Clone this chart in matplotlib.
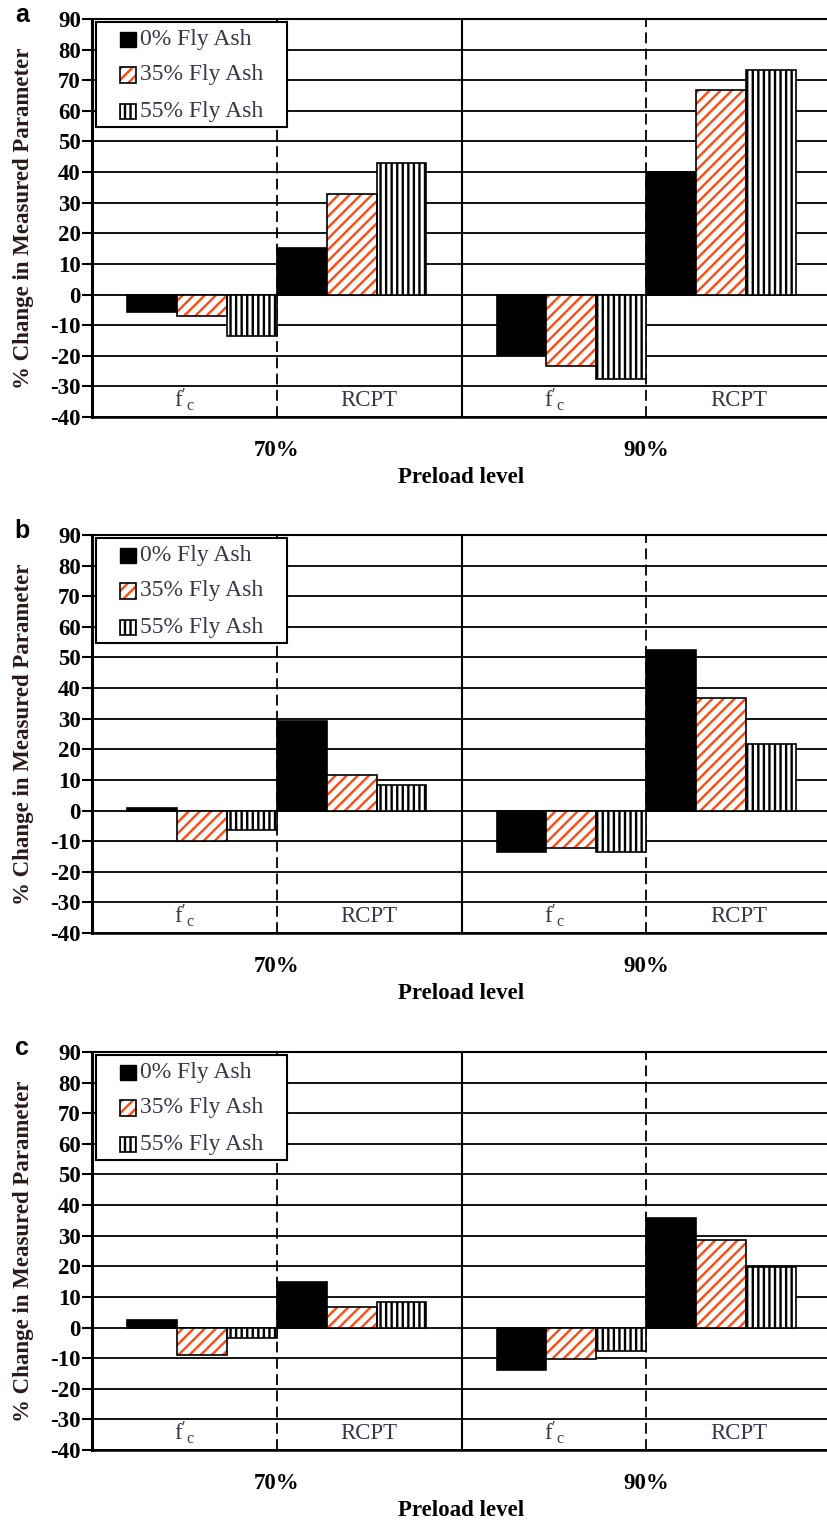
import matplotlib
matplotlib.use("Agg")
import matplotlib.pyplot as plt
import matplotlib.transforms as mtransforms
from matplotlib.patches import Rectangle
import numpy as np

plt.rcParams['font.family'] = ['Liberation Serif', 'DejaVu Serif']
plt.rcParams['mathtext.default'] = 'regular'
plt.rcParams['hatch.linewidth'] = 1.7

# 数据：每组顺序为 f'c@70%, RCPT@70%, f'c@90%, RCPT@90%
sections = ["f'c", "RCPT", "f'c", "RCPT"]
preload_levels = ["70%", "90%"]
series_labels = ["0% Fly Ash", "35% Fly Ash", "55% Fly Ash"]
yticks = list(range(-40, 100, 10))

panel_a_0 = [-5.8, 15.2, -19.6, 40.1]
panel_a_35 = [-7.1, 32.9, -23.4, 66.7]
panel_a_55 = [-13.6, 43.0, -27.5, 73.5]

panel_b_0 = [0.9, 29.2, -13.5, 52.6]
panel_b_35 = [-9.8, 11.5, -12.1, 36.6]
panel_b_55 = [-6.2, 8.5, -13.5, 21.8]

panel_c_0 = [2.4, 14.9, -13.9, 35.9]
panel_c_35 = [-8.9, 6.8, -10.3, 28.7]
panel_c_55 = [-3.5, 8.4, -7.6, 19.9]

panels = [("a", [panel_a_0, panel_a_35, panel_a_55]),
          ("b", [panel_b_0, panel_b_35, panel_b_55]),
          ("c", [panel_c_0, panel_c_35, panel_c_55])]

ORANGE = '#ff4a12'
TXT = '#3a3548'
W = 0.27  # 柱宽（每段宽度为1）

FIG_W, FIG_H = 827, 1525
ax_left, ax_right = 92, 831
ax_tops = [19, 535, 1052]
ax_h = 398


def bar_positions(k):
    """第k个系列在四个分段中的柱中心位置"""
    pos = []
    for i in range(4):
        pivot = 1.0 if i < 2 else 3.0
        if i % 2 == 0:
            pos.append(pivot - (2.5 - k) * W)
        else:
            pos.append(pivot + (0.5 + k) * W)
    return np.array(pos)


def draw_bars(ax, k, vals):
    x = bar_positions(k)
    if k == 0:
        ax.bar(x, vals, width=W, color='black', edgecolor='black', linewidth=1.2, zorder=3)
    elif k == 1:
        ax.bar(x, vals, width=W, color='white', edgecolor=ORANGE, hatch='///', linewidth=0, zorder=3)
        ax.bar(x, vals, width=W, fill=False, edgecolor='black', linewidth=1.2, zorder=4)
    else:
        ax.bar(x, vals, width=W, color='white', edgecolor='black', hatch='|||', linewidth=1.2, zorder=3)


def draw_legend(ax):
    t = ax.transAxes
    frame = Rectangle((0.0054, 0.7286), 0.2585, 0.2639, transform=t, facecolor='white',
                      edgecolor='black', linewidth=1.5, zorder=6)
    ax.add_patch(frame)
    ys = [0.9497, 0.8593, 0.7688]
    hw, hh = 0.0217, 0.0377
    for k, (lab, y) in enumerate(zip(series_labels, ys)):
        if k == 0:
            h = Rectangle((0.0379, y - hh / 2), hw, hh, transform=t, facecolor='black',
                          edgecolor='black', lw=1.0, zorder=7)
            ax.add_patch(h)
        elif k == 1:
            h = Rectangle((0.0379, y - hh / 2), hw, hh, transform=t, facecolor='white',
                          edgecolor=ORANGE, hatch='///', lw=0, zorder=7)
            ax.add_patch(h)
            ax.add_patch(Rectangle((0.0379, y - hh / 2), hw, hh, transform=t, fill=False,
                                   edgecolor='black', lw=1.2, zorder=8))
        else:
            h = Rectangle((0.0379, y - hh / 2), hw, hh, transform=t, facecolor='white',
                          edgecolor='black', hatch='|||', lw=1.2, zorder=7)
            ax.add_patch(h)
        ax.text(0.065, y, lab, transform=t, fontsize=17, color=TXT,
                ha='left', va='center', zorder=8)


fig = plt.figure(figsize=(FIG_W / 100, FIG_H / 100), dpi=100)

for (letter, series), top in zip(panels, ax_tops):
    ax = fig.add_axes([ax_left / FIG_W, (FIG_H - top - ax_h) / FIG_H,
                       (ax_right - ax_left) / FIG_W, ax_h / FIG_H])
    ax.set_xlim(0, 4)
    ax.set_ylim(-40, 90)
    ax.set_yticks(yticks)
    ax.set_yticklabels([str(v) for v in yticks], fontweight='bold', fontsize=16.5)
    ax.set_xticks([])
    ax.tick_params(axis='y', direction='out', length=7, width=1.5, pad=1)
    ax.yaxis.grid(True, color='black', linewidth=1.3)
    ax.set_axisbelow(True)
    ax.spines['left'].set_linewidth(2.2)
    ax.spines['top'].set_linewidth(1.5)
    ax.spines['bottom'].set_linewidth(1.8)
    ax.spines['right'].set_visible(False)

    # 分隔线
    ax.axvline(2, color='black', linewidth=1.5, zorder=2)
    for xv in (1, 3):
        ax.axvline(xv, color='black', linewidth=1.3, linestyle=(0, (6, 3)), zorder=2)

    for k, vals in enumerate(series):
        draw_bars(ax, k, vals)

    for i, s in enumerate(sections):
        lab = r"$f'_{c}$" if s == "f'c" else s
        ax.text(i + 0.5, -34.5, lab, ha='center', va='center', fontsize=16.5, color=TXT, zorder=5)

    trans = mtransforms.blended_transform_factory(ax.transData, ax.transAxes)
    for j, lv in enumerate(preload_levels):
        ax.text(1 + 2 * j, -0.083, lv, transform=trans, ha='center', va='center',
                fontsize=16.5, fontweight='bold')
    ax.text(2, -0.151, "Preload level", transform=trans, ha='center', va='center',
            fontsize=16.5, fontweight='bold')

    draw_legend(ax)

    fig.text(24 / FIG_W, 1 - (top + ax_h / 2) / FIG_H, "% Change in Measured Parameter",
             rotation=90, ha='center', va='center', fontsize=16.5, fontweight='bold', color='#2a1a1a')
    fig.text(22 / FIG_W, 1 - (top - 4) / FIG_H, letter, ha='center', va='center',
             fontsize=18, fontweight='bold', family='Liberation Sans')

fig.savefig('out.png', dpi=100)
